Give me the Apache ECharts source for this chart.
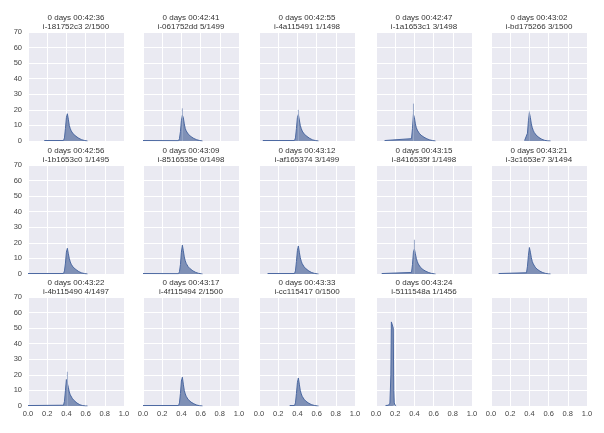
<!DOCTYPE html>
<html>
<head>
<meta charset="utf-8">
<script src="https://cdn.jsdelivr.net/npm/echarts@6/dist/echarts.min.js"></script>
<style>
  html, body { margin: 0; padding: 0; background: #fff; }
  #main { width: 604px; height: 433px; }
</style>
</head>
<body>
<div id="main"></div>
<script>
// panel titles
var timeLabels = [
    '0 days 00:42:36', '0 days 00:42:41', '0 days 00:42:55', '0 days 00:42:47', '0 days 00:43:02',
    '0 days 00:42:56', '0 days 00:43:09', '0 days 00:43:12', '0 days 00:43:15', '0 days 00:43:21',
    '0 days 00:43:22', '0 days 00:43:17', '0 days 00:43:33', '0 days 00:43:24'
];
var instanceLabels = [
    'i-181752c3 2/1500', 'i-061752dd 5/1499', 'i-4a115491 1/1498', 'i-1a1653c1 3/1498', 'i-bd175266 3/1500',
    'i-1b1653c0 1/1495', 'i-8516535e 0/1498', 'i-af165374 3/1499', 'i-8416535f 1/1498', 'i-3c1653e7 3/1494',
    'i-4b115490 4/1497', 'i-4f115494 2/1500', 'i-cc115417 0/1500', 'i-5111548a 1/1456'
];

// bin centres shared by panels 1-13
var binX = [0.37, 0.38, 0.39, 0.40, 0.41, 0.42, 0.43, 0.44, 0.45, 0.46, 0.47, 0.48, 0.49,
            0.50, 0.51, 0.52, 0.53, 0.54, 0.55, 0.56, 0.57, 0.58, 0.59, 0.60, 0.61, 0.62];
var binX14 = [0.12, 0.13, 0.14, 0.145, 0.15, 0.155, 0.16, 0.165, 0.17, 0.175, 0.18, 0.185, 0.19, 0.20, 0.21];

// density per panel
var h1  = [0.3, 2, 8, 15, 17.5, 14, 10, 8, 6.5, 5.5, 4.6, 4, 3.4, 3, 2.5, 2.1, 1.7, 1.4, 1.1, 0.8, 0.6, 0.45, 0.3, 0.2, 0.1, 0];
var h2  = [0.2, 1.5, 6, 13, 16.5, 15, 11, 8, 6.5, 5.3, 4.5, 3.9, 3.3, 2.8, 2.4, 2, 1.6, 1.3, 1, 0.8, 0.6, 0.4, 0.3, 0.2, 0.1, 0];
var h3  = [0.3, 2, 8, 15, 17, 13.5, 10, 8, 6.4, 5.4, 4.5, 3.9, 3.3, 2.9, 2.4, 2, 1.6, 1.3, 1, 0.7, 0.5, 0.35, 0.25, 0.15, 0.1, 0];
var h4  = [1.5, 8, 17, 15, 11, 8.5, 7, 6, 5, 4.3, 3.7, 3.2, 2.8, 2.4, 2, 1.7, 1.4, 1.1, 0.9, 0.7, 0.5, 0.35, 0.25, 0.15, 0.1, 0];
var h5  = [1, 5, 13, 18, 15, 11, 8.5, 6.8, 5.5, 4.5, 3.8, 3.2, 2.7, 2.2, 1.8, 1.4, 1.1, 0.8, 0.6, 0.4, 0.3, 0.2, 0.1, 0.05, 0, 0];
var h6  = [0.3, 2, 7, 14, 16.5, 13, 10, 7.8, 6.3, 5.2, 4.4, 3.8, 3.2, 2.8, 2.3, 1.9, 1.5, 1.2, 0.9, 0.7, 0.5, 0.35, 0.25, 0.15, 0.1, 0];
var h7  = [0.2, 1.5, 6, 14, 18.5, 15, 11, 8.5, 6.8, 5.6, 4.7, 4, 3.4, 2.9, 2.4, 2, 1.6, 1.3, 1, 0.8, 0.6, 0.4, 0.3, 0.2, 0.1, 0];
var h8  = [0.3, 2, 8, 15, 18, 14, 10.5, 8.2, 6.6, 5.5, 4.6, 3.9, 3.3, 2.8, 2.3, 1.9, 1.5, 1.2, 0.9, 0.7, 0.5, 0.35, 0.25, 0.15, 0.1, 0];
var h9  = [1, 6, 14, 16, 13, 10, 8, 6.5, 5.4, 4.5, 3.8, 3.3, 2.8, 2.4, 2, 1.7, 1.4, 1.1, 0.9, 0.7, 0.5, 0.35, 0.25, 0.15, 0.1, 0];
var h10 = [0.8, 5, 12, 17, 14, 10.5, 8, 6.5, 5.3, 4.4, 3.7, 3.1, 2.6, 2.2, 1.8, 1.5, 1.2, 0.9, 0.7, 0.5, 0.35, 0.25, 0.15, 0.1, 0.05, 0];
var h11 = [0.5, 3, 10, 17, 16, 12, 9, 7.2, 6, 5, 4.2, 3.5, 2.9, 2.4, 1.9, 1.5, 1.1, 0.8, 0.6, 0.4, 0.25, 0.15, 0.1, 0.05, 0, 0];
var h12 = [0.3, 2, 8, 16, 18.5, 14, 10, 7.8, 6.2, 5.1, 4.2, 3.5, 3, 2.5, 2.1, 1.7, 1.4, 1.1, 0.8, 0.6, 0.45, 0.3, 0.2, 0.1, 0.05, 0];
var h13 = [0.3, 2, 8, 15, 18, 14, 10, 7.8, 6.2, 5.1, 4.3, 3.6, 3, 2.5, 2.1, 1.7, 1.4, 1.1, 0.8, 0.6, 0.45, 0.3, 0.2, 0.1, 0.05, 0];
var h14 = [0.2, 0.5, 1.2, 1.8, 2.5, 20, 54, 55, 55, 54, 50, 10, 2, 0.5, 0];

// where the low tail of each panel starts, and the tallest single bin
var tailStart = [0.17, 0.0, 0.04, 0.09, 0.35, 0.0, 0.0, 0.09, 0.06, 0.08, 0.0, 0.0, 0.32, 0.10];
var spikeX = [null, 0.41, 0.41, 0.39, 0.40, null, null, null, 0.40, null, 0.41, null, null, null];
var spikeY = [null, 21, 20, 24, 19, null, null, null, 22, null, 22, null, null, null];

var hists = [h1, h2, h3, h4, h5, h6, h7, h8, h9, h10, h11, h12, h13, h14];

var mChart = echarts.init(document.getElementById('main'));

var colLeft = [28, 143, 259, 376, 491];
var rowTop = [32, 165, 297];
var titleTop = [13.5, 146.5, 278.5];
var pw = 96, ph = 109;
var fontFam = '"Liberation Sans", Arial, sans-serif';

var grids = [], xAxes = [], yAxes = [], titles = [], series = [];

for (var i = 0; i < 15; i++) {
    var r = Math.floor(i / 5), c = i % 5;
    grids.push({
        left: colLeft[c], top: rowTop[r], width: pw, height: ph,
        show: true, backgroundColor: '#eaeaf2', borderWidth: 0
    });
    xAxes.push({
        gridIndex: i, type: 'value', min: 0, max: 1, interval: 0.2,
        axisLine: {show: false}, axisTick: {show: false},
        splitLine: {lineStyle: {color: '#ffffff', width: 1}},
        axisLabel: {
            show: r == 2, margin: 4, fontSize: 7.5, color: '#444', fontFamily: fontFam,
            formatter: function (v) { return v.toFixed(1); }
        }
    });
    yAxes.push({
        gridIndex: i, type: 'value', min: 0, max: 70, interval: 10,
        axisLine: {show: false}, axisTick: {show: false},
        splitLine: {lineStyle: {color: '#ffffff', width: 1}},
        axisLabel: {show: c == 0, margin: 6, fontSize: 7.5, color: '#444', fontFamily: fontFam}
    });
    if (i >= 14) continue;

    titles.push({
        text: timeLabels[i] + '\n' + instanceLabels[i],
        left: colLeft[c] + pw / 2, top: titleTop[r], padding: 0,
        textAlign: 'center',
        textStyle: {fontSize: 8, fontWeight: 'normal', color: '#333', lineHeight: 9, fontFamily: fontFam}
    });

    var xs = i == 13 ? binX14 : binX;
    var data = [[tailStart[i], 0.3]];
    $each(xs, function (j, x) {
        data.push([x, hists[i][j]]);
    });
    series.push({
        type: 'line', xAxisIndex: i, yAxisIndex: i, data: data,
        showSymbol: false, symbol: 'none', silent: true, animation: false,
        lineStyle: {color: '#4a67a0', width: 1},
        areaStyle: {color: '#7f90b6', opacity: 1}
    });
    if (spikeX[i] !== null) {
        series.push({
            type: 'line', xAxisIndex: i, yAxisIndex: i,
            data: [[spikeX[i], 0], [spikeX[i], spikeY[i]]],
            showSymbol: false, symbol: 'none', silent: true, animation: false,
            lineStyle: {color: '#9aa8c8', width: 1}
        });
    }
}

function $each(arr, fn) {
    for (var k = 0; k < arr.length; k++) fn(k, arr[k]);
}

mChart.setOption({
    animation: false,
    title: titles,
    grid: grids,
    xAxis: xAxes,
    yAxis: yAxes,
    series: series
});
</script>
</body>
</html>
